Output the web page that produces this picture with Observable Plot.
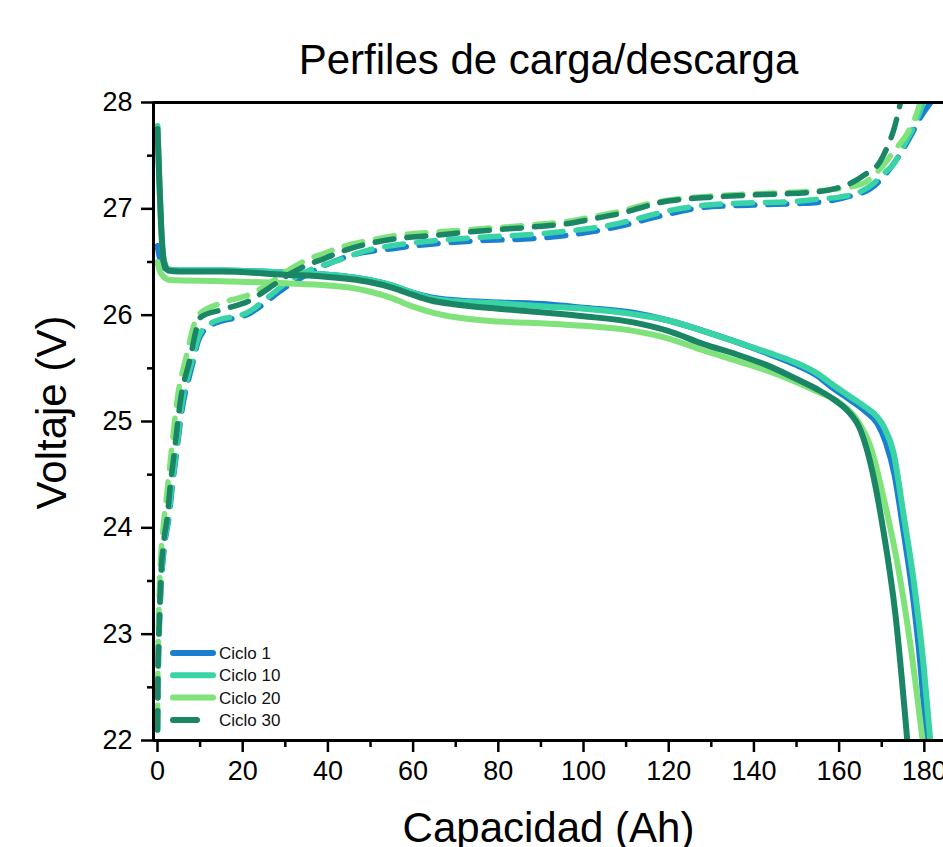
<!DOCTYPE html>
<html>
<head>
<meta charset="utf-8">
<script src="https://cdn.jsdelivr.net/npm/d3@7"></script>
<script src="https://cdn.jsdelivr.net/npm/@observablehq/plot@0.6"></script>
<style>
  body { margin: 0; background: #fff; }
  #wrap { position: relative; width: 943px; height: 847px; overflow: hidden; font-family: "Liberation Sans", Arial, sans-serif; }
  #legend { position: absolute; left: 0; top: 0; width: 943px; height: 847px; pointer-events: none; }
</style>
</head>
<body>
<div id="wrap"></div>
<script>
// ---- data ----
const cycles = ["Ciclo 1", "Ciclo 10", "Ciclo 20", "Ciclo 30"];
const colors = ["#1a7fd0", "#38d4a6", "#80e27a", "#1a8666"];
const title = "Perfiles de carga/descarga";
const xLabel = "Capacidad (Ah)";
const yLabel = "Voltaje (V)";
const xTicks = [0, 20, 40, 60, 80, 100, 120, 140, 160, 180];
const xMinorTicks = [10, 30, 50, 70, 90, 110, 130, 150, 170];
const yTicks = [22, 23, 24, 25, 26, 27, 28];
const yMinorTicks = [22.5, 23.5, 24.5, 25.5, 26.5, 27.5];
const xDomain = [-0.94, 184.5];
const yDomain = [22, 28];

// discharge (solid) [capacity Ah, voltage V]
const discharge1 = [[0,26.65],[0.5,26.55],[1.2,26.46],[2.5,26.43],[5,26.42],[15,26.42],[30,26.40],[40,26.38],[45,26.36],[50,26.33],[55,26.28],[60,26.21],[64,26.17],[70,26.14],[80.5,26.12],[92,26.10],[100,26.07],[112,26.02],[120,25.95],[127.5,25.86],[135,25.76],[143.2,25.64],[150,25.53],[154.9,25.43],[158,25.33],[162.7,25.20],[166,25.10],[169,24.98],[171,24.80],[173,24.50],[175,24.00],[177.5,23.30],[179,22.75],[180.5,22.0]];
const discharge10 = [[0,27.78],[0.4,27.3],[0.9,26.8],[1.5,26.52],[2.5,26.43],[5,26.42],[15,26.42],[30,26.40],[40,26.38],[45,26.36],[50,26.33],[55,26.28],[60,26.21],[64,26.16],[70,26.13],[80.5,26.11],[92,26.08],[100,26.06],[111.7,26.01],[120,25.95],[127.5,25.86],[135,25.76],[143.2,25.65],[150,25.55],[154.9,25.45],[158,25.36],[162.7,25.23],[166,25.14],[169,25.04],[170.5,24.95],[172.8,24.70],[175.1,24.13],[177.5,23.50],[179.8,22.72],[181.4,22.0]];
const discharge20 = [[0,26.50],[0.5,26.42],[1.5,26.36],[3,26.33],[15,26.32],[30,26.30],[40,26.28],[45,26.26],[50,26.22],[55,26.16],[60,26.08],[65,26.02],[70,25.98],[80,25.94],[92,25.92],[100,25.90],[112,25.85],[120,25.78],[128,25.67],[136,25.57],[143,25.48],[150,25.37],[155,25.28],[160,25.18],[164.3,25.01],[167.4,24.76],[170.4,24.29],[173.7,23.66],[176.8,22.88],[179.6,22.0]];
const discharge30 = [[0,27.75],[0.4,27.3],[0.9,26.8],[1.5,26.5],[2.5,26.42],[5,26.41],[15,26.41],[30,26.38],[40,26.36],[45,26.34],[50,26.31],[55,26.26],[60,26.19],[64,26.14],[70,26.10],[80,26.06],[92,26.02],[100,25.99],[112,25.93],[120,25.85],[128,25.73],[136,25.63],[143,25.53],[150,25.40],[155,25.30],[159,25.20],[162,25.10],[165,24.92],[167.4,24.60],[170.4,23.97],[173.2,23.19],[176,22.0]];

// charge (dashed) [capacity Ah, voltage V]
const charge1 = [[0,22.1],[0.15,22.6],[0.45,23.1],[0.85,23.45],[1.7,23.85],[2.7,24.1],[3.5,24.4],[4.3,24.65],[5.8,25.12],[8.1,25.52],[9.6,25.76],[10.6,25.84],[12.4,25.90],[21.8,26.02],[29.6,26.25],[35,26.38],[45.3,26.56],[56,26.63],[64.8,26.67],[75,26.70],[88.3,26.72],[96,26.75],[104,26.80],[110,26.85],[115.7,26.91],[121,26.96],[127.5,27.01],[135,27.03],[143.2,27.04],[150,27.05],[154.9,27.06],[162.7,27.12],[167.4,27.19],[171,27.33],[174.4,27.52],[177,27.70],[179.1,27.86],[181.5,28.0]];
const charge10 = [[0,22.1],[0.15,22.6],[0.45,23.1],[0.8,23.45],[1.6,23.85],[2.6,24.1],[3.4,24.4],[4.2,24.65],[5.7,25.15],[8,25.55],[9.5,25.78],[10.5,25.86],[12.4,25.92],[21.8,26.04],[26,26.17],[31.2,26.33],[36,26.43],[41.3,26.50],[49.3,26.61],[56,26.66],[64.8,26.70],[75,26.73],[88.3,26.76],[96,26.79],[104,26.83],[110,26.88],[115.7,26.94],[121,26.99],[127.5,27.03],[135,27.05],[143.2,27.06],[150,27.07],[154.9,27.09],[160,27.11],[165,27.16],[168.1,27.24],[170.4,27.33],[172.8,27.42],[175,27.58],[177.5,27.77],[179.8,28.0]];
const charge20 = [[0,22.15],[0.1,22.7],[0.3,23.2],[0.6,23.6],[1.2,23.95],[2.0,24.25],[3.2,24.7],[4.6,25.2],[6.8,25.62],[8.5,25.9],[9.5,26.0],[15.5,26.12],[22,26.2],[27,26.32],[31,26.43],[35,26.52],[39,26.58],[44,26.65],[49.3,26.70],[56,26.75],[64.8,26.78],[75,26.81],[88.3,26.85],[96,26.88],[104,26.94],[109,26.98],[113.4,27.03],[118,27.07],[123.5,27.10],[130,27.12],[139.2,27.14],[146,27.15],[154.9,27.17],[160,27.19],[165.7,27.24],[168,27.31],[170.4,27.41],[173,27.55],[176,27.71],[178.4,27.92],[179,28.0]];
const charge30 = [[0,22.1],[0.1,22.6],[0.4,23.1],[0.7,23.47],[1.4,23.85],[2.3,24.10],[3.0,24.4],[3.8,24.66],[5.4,25.20],[7.7,25.60],[9,25.85],[10.1,25.98],[15,26.05],[21.8,26.14],[26,26.25],[31.2,26.39],[35,26.47],[39,26.53],[44,26.61],[49.3,26.67],[56,26.72],[64.8,26.75],[75,26.79],[88.3,26.83],[96,26.86],[104,26.92],[109,26.96],[113.4,27.01],[118,27.06],[123.5,27.09],[130,27.11],[139.2,27.13],[146,27.14],[154.9,27.16],[159,27.19],[162.7,27.24],[166,27.32],[169.7,27.45],[171.5,27.60],[172.8,27.74],[174.4,28.0]];

const dischargeSets = [discharge1, discharge10, discharge20, discharge30];
const chargeSets = [charge1, charge10, charge20, charge30];

// ---- build ----
const toRows = (arr) => arr.map(([x, v]) => ({x, v}));
const lineMarks = [];
cycles.forEach((c, i) => {
  lineMarks.push(Plot.line(toRows(dischargeSets[i]), {
    x: "x", y: "v", stroke: colors[i], strokeWidth: 6, curve: "monotone-x", clip: true
  }));
  lineMarks.push(Plot.line(toRows(chargeSets[i]), {
    x: "x", y: "v", stroke: colors[i], strokeWidth: 5.5, curve: "monotone-x", clip: true,
    strokeDasharray: "19,13", strokeLinecap: "round"
  }));
});

const chart = Plot.plot({
  width: 943,
  height: 847,
  marginTop: 102,
  marginBottom: 107,
  marginLeft: 153,
  marginRight: 0,
  style: {fontFamily: '"Liberation Sans", Arial, sans-serif', background: "white", overflow: "visible", color: "black"},
  x: {domain: xDomain},
  y: {domain: yDomain},
  marks: [
    Plot.axisX(xTicks, {tickSize: 12, tickPadding: 8, fontSize: 27, strokeWidth: 2.5, tickFormat: d3.format("d"), label: null}),
    Plot.axisX(xMinorTicks, {tickSize: 7, tickFormat: () => "", strokeWidth: 2.5, label: null}),
    Plot.axisY(yTicks, {tickSize: 12, tickPadding: 9, fontSize: 27, strokeWidth: 2.5, tickFormat: d3.format("d"), label: null}),
    Plot.axisY(yMinorTicks, {tickSize: 6, tickFormat: () => "", strokeWidth: 2.5, label: null}),
    ...lineMarks,
    Plot.ruleX([xDomain[0]], {strokeWidth: 3}),
    Plot.ruleY([yDomain[0], yDomain[1]], {strokeWidth: 3}),
    Plot.text([title], {frameAnchor: "top", dy: -42, fontSize: 42, lineAnchor: "middle"}),
    Plot.text([xLabel], {frameAnchor: "bottom", dy: 88, fontSize: 42, lineAnchor: "middle"}),
    Plot.text([yLabel], {frameAnchor: "left", dx: -101, dy: -9, rotate: -90, fontSize: 42, textAnchor: "middle", lineAnchor: "middle"})
  ]
});

const wrap = document.getElementById("wrap");
wrap.appendChild(chart);

// legend overlay
const ns = "http://www.w3.org/2000/svg";
const leg = document.createElementNS(ns, "svg");
leg.setAttribute("id", "legend");
leg.setAttribute("width", 943);
leg.setAttribute("height", 847);
const legTop = 653, legStep = 22.3;
cycles.forEach((c, i) => {
  const y = legTop + i * legStep;
  const ln = document.createElementNS(ns, "line");
  ln.setAttribute("x1", 173);
  ln.setAttribute("x2", i === 3 ? 197 : 213);
  ln.setAttribute("y1", y);
  ln.setAttribute("y2", y);
  ln.setAttribute("stroke", colors[i]);
  ln.setAttribute("stroke-width", 6);
  ln.setAttribute("stroke-linecap", "round");
  leg.appendChild(ln);
  const t = document.createElementNS(ns, "text");
  t.setAttribute("x", 219);
  t.setAttribute("y", y);
  t.setAttribute("dy", "0.35em");
  t.setAttribute("font-size", 17);
  t.setAttribute("font-family", '"Liberation Sans", Arial, sans-serif');
  t.setAttribute("fill", "#111");
  t.textContent = c;
  leg.appendChild(t);
});
wrap.appendChild(leg);
</script>
</body>
</html>
